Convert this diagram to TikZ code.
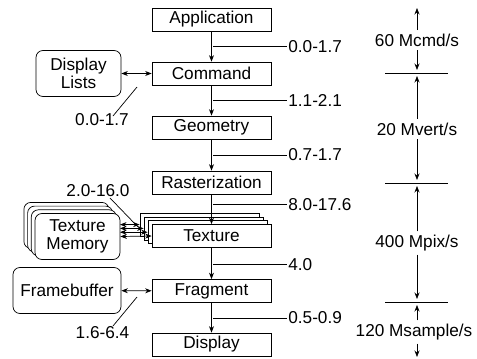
\documentclass[tikz,border=0pt]{standalone}
\usepackage{fontspec}
\setmainfont{Liberation Sans}
\usetikzlibrary{arrows.meta}
\def\tip{Stealth[length=6.5pt,width=5pt]}
\tikzset{
  stage/.style={draw,fill=white,minimum width=119pt,minimum height=23pt,inner sep=0pt},
  store/.style={draw,fill=white,rounded corners=7pt,minimum width=85pt,minimum height=46pt,inner sep=0pt,align=center},
  flow/.style={-{\tip}},
  both/.style={{\tip}-{\tip}},
  rate/.style={right,inner sep=1pt},
}

\begin{document}
\begin{tikzpicture}[x=1pt,y=-1pt,line width=0.7pt,font=\fontsize{17.2}{18}\selectfont]
  \useasboundingbox (0,0) rectangle (477,359);

  % pipeline stages
  \node[stage] (app)  at (211.5,19.5)  {Application};
  \node[stage] (cmd)  at (211.5,73.5)  {Command};
  \node[stage] (geom) at (211.5,127.5) {Geometry};
  \node[stage] (rast) at (211.5,182.5) {Rasterization};
  \foreach \i in {3,2,1}
    \node[stage] (tex\i) at (211.5-4*\i,236-3.8*\i) {};
  \node[stage] (tex)  at (211.5,236)   {Texture};
  \node[stage] (frag) at (211.5,291)   {Fragment};
  \node[stage] (disp) at (211.5,344.5) {Display};

  % memories
  \node[store] (lists) at (78.5,73.5) {Display\\Lists};
  \foreach \i in {3,2,1}
    \node[store] (mem\i) at (77.5-3.7*\i,236.5-3.7*\i) {};
  \node[store] (mem) at (77.5,236.5) {Texture\\Memory};
  \node[store,minimum width=108pt] (fb) at (67,290.5) {Framebuffer};

  \draw[flow] (app) -- (cmd);
  \draw[flow] (cmd) -- (geom);
  \draw[flow] (geom) -- (rast);
  \draw[flow] (rast) -- (tex);
  \draw[flow] (tex) -- (frag);
  \draw[flow] (frag) -- (disp);

  \draw[both] (lists) -- (cmd);
  \draw[both] (fb) -- (frag);
  \draw[both] (mem.east) -- (tex.west);
  \foreach \i in {1,2,3}
    \draw[both] (120,236-3.8*\i) -- (tex\i.west |- 0,236-3.8*\i);

  % bandwidths
  \node[rate] (r1) at (287,46.5)  {0.0-1.7};
  \node[rate] (r2) at (287,100.5) {1.1-2.1};
  \node[rate] (r3) at (287,155)   {0.7-1.7};
  \node[rate] (r4) at (287,204.5) {8.0-17.6};
  \node[rate] (r5) at (287,264.5) {4.0};
  \node[rate] (r6) at (287,318)   {0.5-0.9};
  \foreach \r in {r1,r2,r3,r4,r5,r6}
    \draw (213,0 |- \r.west) -- (\r.west);

  \node (lrate) at (102,120) {0.0-1.7};
  \node (mrate) at (98,191)  {2.0-16.0};
  \node (frate) at (102.5,333) {1.6-6.4};
  \draw (137,87) -- (113,116);
  \draw (110,198) -- (138,227);
  \draw (137,297) -- (113,326);

  % rates on the right
  \node (c1) at (417,40)  {60 Mcmd/s};
  \node (c2) at (417,129) {20 Mvert/s};
  \node (c3) at (417,243) {400 Mpix/s};
  \node (c4) at (414,332) {120 Msample/s};
  \draw (385,73) -- (448,73);
  \draw (385,183) -- (448,183);
  \draw (385,302) -- (448,302);
  \draw[flow] (c1.north) -- (417,8);
  \draw[flow] (c1.south) -- (417,70);
  \draw[flow] (c2.north) -- (417,76);
  \draw[flow] (c2.south) -- (417,180);
  \draw[flow] (c3.north) -- (417,186);
  \draw[flow] (c3.south) -- (417,299);
  \draw[flow] (c4.north -| 417,0) -- (417,305);
  \draw[flow] (c4.south -| 417,0) -- (417,357);
\end{tikzpicture}
\end{document}
